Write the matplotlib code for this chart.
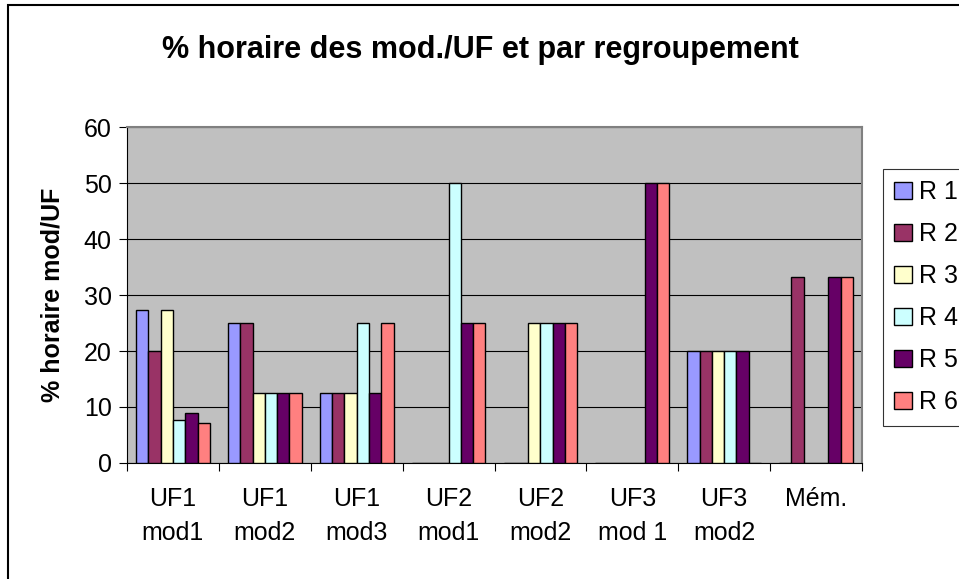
import matplotlib.pyplot as plt
import numpy as np
from matplotlib.patches import Rectangle

plt.rcParams['font.family'] = ['Liberation Sans', 'DejaVu Sans']

categories = ["UF1\nmod1", "UF1\nmod2", "UF1\nmod3", "UF2\nmod1", "UF2\nmod2",
              "UF3\nmod 1", "UF3\nmod2", "Mém."]
series = ["R 1", "R 2", "R 3", "R 4", "R 5", "R 6"]
r1 = [27.3, 25, 12.5, 0, 0, 0, 20, 0]
r2 = [20, 25, 12.5, 0, 0, 0, 20, 33.3]
r3 = [27.3, 12.5, 12.5, 0, 25, 0, 20, 0]
r4 = [7.7, 12.5, 25, 50, 25, 0, 20, 0]
r5 = [8.9, 12.5, 12.5, 25, 25, 50, 20, 33.3]
r6 = [7.1, 12.5, 25, 25, 25, 50, 0, 33.3]
colors = ["#9999FF", "#993366", "#FFFFCC", "#CCFFFF", "#660066", "#FF8080"]

fig = plt.figure(figsize=(9.59, 5.79), dpi=100)
fig.patches.append(Rectangle((8 / 959, -0.05), 1.1, 1.05 - 5 / 579, transform=fig.transFigure,
                             fill=False, edgecolor="black", linewidth=1.5, zorder=0))

ax = fig.add_axes([127 / 959, 1 - 463 / 579, 735 / 959, 336 / 579])
ax.set_facecolor("#C0C0C0")

x = np.arange(len(categories))
w = 0.134
for i, (vals, name) in enumerate(zip([r1, r2, r3, r4, r5, r6], series)):
    ax.bar(x + (i - 2.5) * w, vals, w, color=colors[i], edgecolor="black",
           linewidth=1.0, label=name, zorder=3)

ax.set_xlim(-0.5, len(categories) - 0.5)
ax.set_ylim(0, 60)
ax.set_yticks(range(0, 61, 10))
ax.yaxis.grid(True, color="black", linewidth=0.8, zorder=1)
ax.tick_params(axis="y", direction="out", length=6, labelsize=18, pad=5)

ax.set_xticks(np.arange(len(categories) + 1) - 0.5)
ax.set_xticklabels([])
ax.tick_params(axis="x", which="major", direction="out", length=6)
ax.set_xticks(x, minor=True)
ax.set_xticklabels(categories, minor=True, fontsize=18, linespacing=1.55)
ax.tick_params(axis="x", which="minor", length=0, pad=17)

for s in ["top", "right"]:
    ax.spines[s].set_color("#808080")
    ax.spines[s].set_linewidth(1.5)
for s in ["bottom", "left"]:
    ax.spines[s].set_color("black")
    ax.spines[s].set_linewidth(0.8)

ax.set_ylabel("% horaire mod/UF", fontsize=18, fontweight="bold", labelpad=14)
fig.text(480 / 959, 1 - 50 / 579, "% horaire des mod./UF et par regroupement",
         ha="center", va="center", fontsize=22, fontweight="bold")

leg = ax.legend(loc="upper left", bbox_to_anchor=(883 / 959, 1 - 169 / 579),
                bbox_transform=fig.transFigure, frameon=True, fancybox=False,
                edgecolor="black", fontsize=18, handlelength=0.7, handleheight=0.7,
                handletextpad=0.3, labelspacing=0.72, borderpad=0.45, borderaxespad=0)
leg.get_frame().set_linewidth(0.8)

fig.savefig("out.png", dpi=100)
